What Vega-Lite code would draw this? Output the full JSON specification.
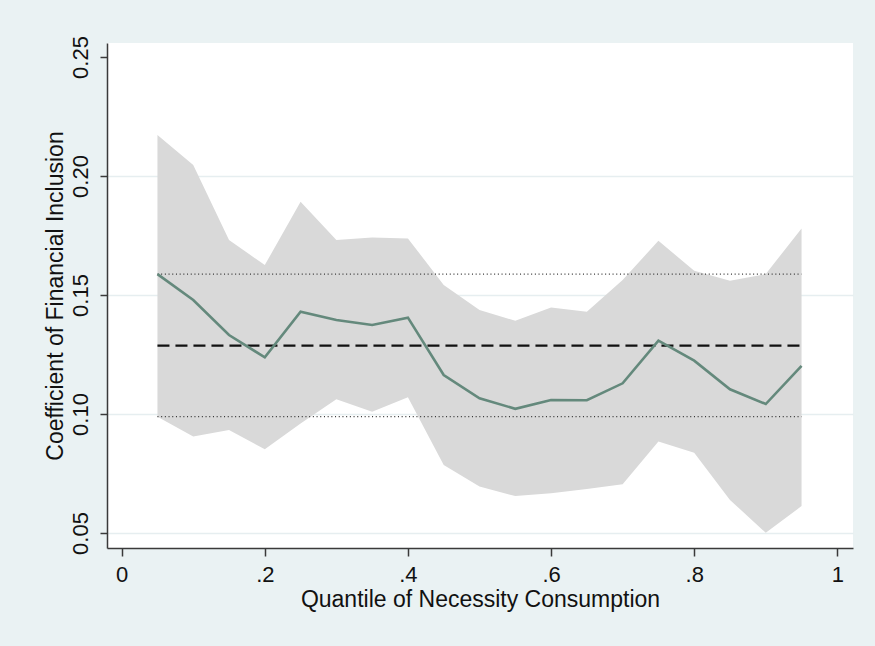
{
  "$schema": "https://vega.github.io/schema/vega-lite/v6.json",
  "autosize": {"type": "none"},
  "width": 746,
  "height": 505,
  "padding": {"left": 107, "top": 43, "right": 22, "bottom": 98},
  "background": "#EAF2F3",
  "view": {"fill": "white", "stroke": null},
  "config": {
    "font": "Liberation Sans",
    "axis": {
      "labelFont": "Liberation Sans",
      "titleFont": "Liberation Sans",
      "labelFontSize": 22,
      "titleFontSize": 23,
      "titleFontWeight": "normal",
      "labelColor": "#111111",
      "titleColor": "#111111",
      "domainColor": "#3a3a3a",
      "domainWidth": 1.5,
      "tickColor": "#3a3a3a",
      "tickWidth": 1.5,
      "gridColor": "#E6EEF0",
      "gridWidth": 1.5
    }
  },
  "datasets": {
    "quant": [
      {"q": 0.05, "coef": 0.1588, "lo": 0.0989, "hi": 0.2172},
      {"q": 0.10, "coef": 0.1479, "lo": 0.0905, "hi": 0.2046},
      {"q": 0.15, "coef": 0.1332, "lo": 0.0933, "hi": 0.1731},
      {"q": 0.20, "coef": 0.1238, "lo": 0.0852, "hi": 0.1626},
      {"q": 0.25, "coef": 0.1430, "lo": 0.0960, "hi": 0.1892},
      {"q": 0.30, "coef": 0.1395, "lo": 0.1062, "hi": 0.1731},
      {"q": 0.35, "coef": 0.1374, "lo": 0.1010, "hi": 0.1742},
      {"q": 0.40, "coef": 0.1405, "lo": 0.1070, "hi": 0.1738},
      {"q": 0.45, "coef": 0.1164, "lo": 0.0786, "hi": 0.1542},
      {"q": 0.50, "coef": 0.1066, "lo": 0.0695, "hi": 0.1437},
      {"q": 0.55, "coef": 0.1022, "lo": 0.0655, "hi": 0.1392},
      {"q": 0.60, "coef": 0.1059, "lo": 0.0667, "hi": 0.1448},
      {"q": 0.65, "coef": 0.1058, "lo": 0.0685, "hi": 0.1430},
      {"q": 0.70, "coef": 0.1129, "lo": 0.0705, "hi": 0.1563},
      {"q": 0.75, "coef": 0.1308, "lo": 0.0884, "hi": 0.1728},
      {"q": 0.80, "coef": 0.1224, "lo": 0.0837, "hi": 0.1602},
      {"q": 0.85, "coef": 0.1104, "lo": 0.0639, "hi": 0.1560},
      {"q": 0.90, "coef": 0.1042, "lo": 0.0501, "hi": 0.1588},
      {"q": 0.95, "coef": 0.1202, "lo": 0.0613, "hi": 0.1780}
    ],
    "ols": [
      {"kind": "upper", "v": 0.1588, "from": 0.05, "to": 0.95},
      {"kind": "lower", "v": 0.0989, "from": 0.05, "to": 0.95}
    ],
    "olsmean": [
      {"kind": "ols", "v": 0.1287, "from": 0.05, "to": 0.95}
    ]
  },
  "layer": [
    {
      "data": {"name": "quant"},
      "mark": {"type": "area", "color": "#D9D9D9", "opacity": 1},
      "encoding": {
        "x": {
          "field": "q", "type": "quantitative",
          "scale": {"domain": [-0.0205, 1.0219], "nice": false, "zero": false},
          "axis": {
            "title": "Quantile of Necessity Consumption",
            "values": [0, 0.2, 0.4, 0.6, 0.8, 1],
            "labelExpr": "datum.value == 0 ? '0' : datum.value == 1 ? '1' : replace(format(datum.value, '.1f'), '0.', '.')",
            "grid": false,
            "tickSize": 8,
            "labelPadding": 8,
            "titlePadding": 3
          }
        },
        "y": {
          "field": "lo", "type": "quantitative",
          "scale": {"domain": [0.0437, 0.2559], "nice": false, "zero": false},
          "axis": {
            "title": "Coefficient of Financial Inclusion",
            "values": [0.05, 0.1, 0.15, 0.2, 0.25],
            "format": ".2f",
            "grid": true,
            "gridOpacity": {"condition": {"test": "datum.value > 0.24", "value": 0}, "value": 1},
            "tickSize": 7,
            "labelAngle": -90,
            "labelAlign": "center",
            "labelBaseline": "bottom",
            "labelPadding": 8,
            "titlePadding": 2
          }
        },
        "y2": {"field": "hi"}
      }
    },
    {
      "data": {"name": "ols"},
      "mark": {"type": "rule", "color": "#333333", "strokeWidth": 1.2, "strokeDash": [1, 2.7]},
      "encoding": {
        "x": {"field": "from", "type": "quantitative"},
        "x2": {"field": "to"},
        "y": {"field": "v", "type": "quantitative"}
      }
    },
    {
      "data": {"name": "olsmean"},
      "mark": {"type": "rule", "color": "#111111", "strokeWidth": 2.2, "strokeDash": [12, 6]},
      "encoding": {
        "x": {"field": "from", "type": "quantitative"},
        "x2": {"field": "to"},
        "y": {"field": "v", "type": "quantitative"}
      }
    },
    {
      "data": {"name": "quant"},
      "mark": {"type": "line", "color": "#64897C", "strokeWidth": 2.6},
      "encoding": {
        "x": {"field": "q", "type": "quantitative"},
        "y": {"field": "coef", "type": "quantitative"}
      }
    }
  ]
}
